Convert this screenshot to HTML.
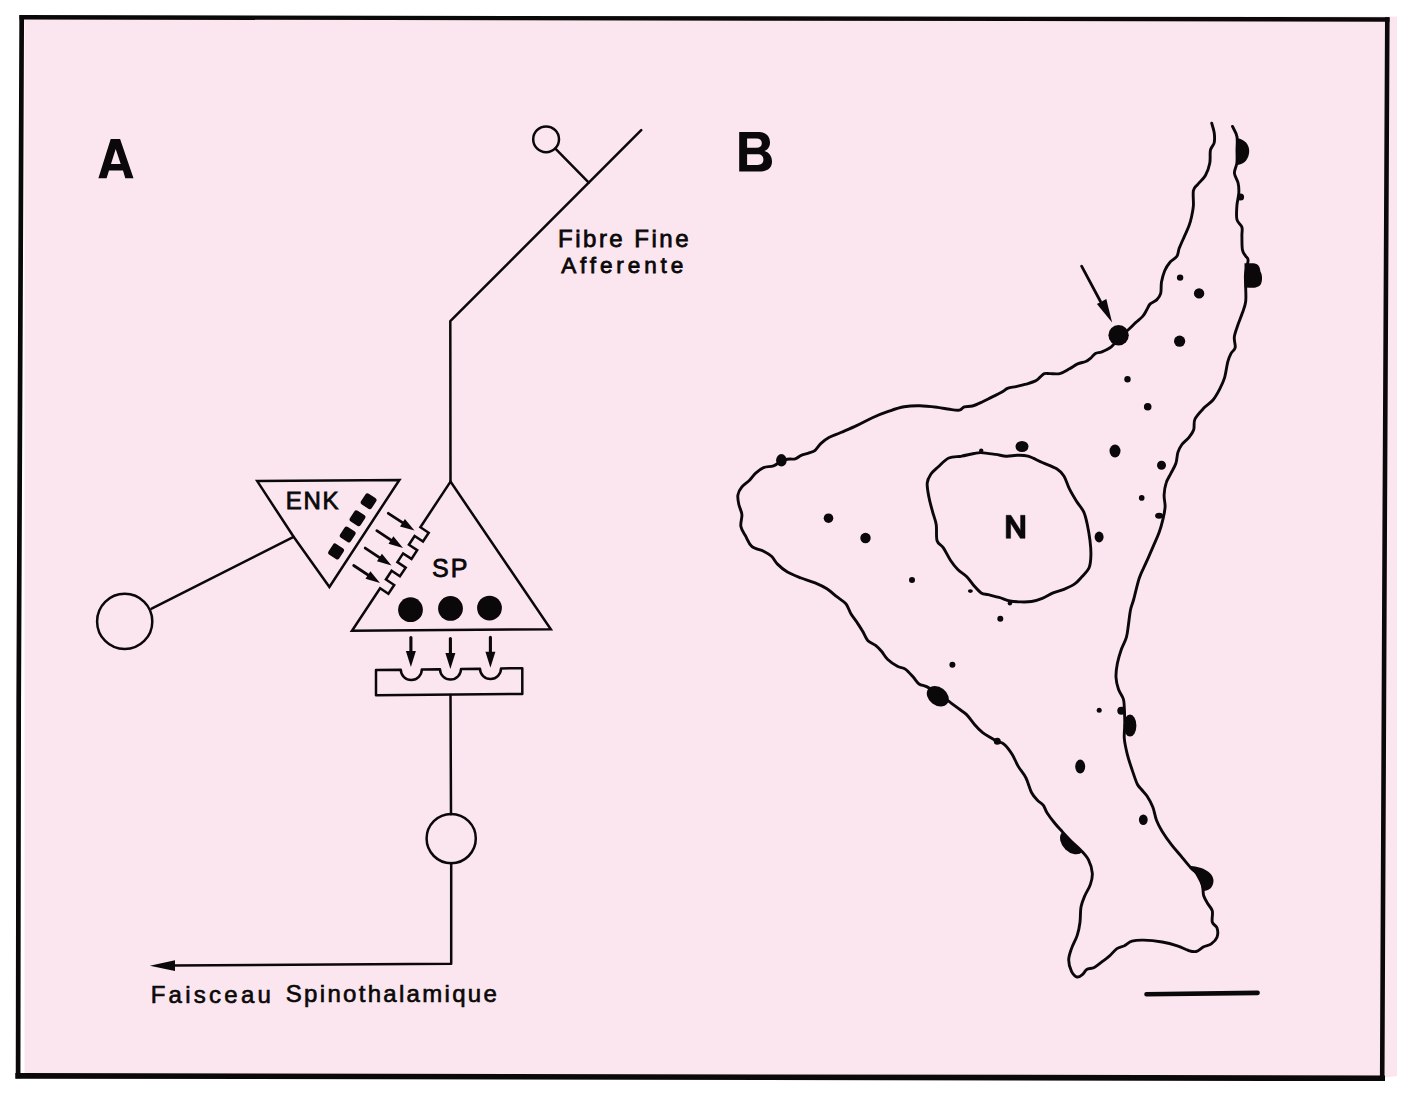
<!DOCTYPE html>
<html><head><meta charset="utf-8"><title>Diagram</title>
<style>html,body{margin:0;padding:0;background:#fff;width:1408px;height:1112px;overflow:hidden}svg{display:block;font-family:"Liberation Sans",sans-serif}</style>
</head><body><svg width="1408" height="1112" viewBox="0 0 1408 1112" font-family="Liberation Sans, sans-serif" fill="#0a0808"><polygon points="24.5,17 1397,16.5 1397,1076 1382,1078 24.5,1076" fill="#fbe6ef"/><g fill="none" stroke="#0a0808" stroke-linecap="square"><path d="M21.7,17.3 L1387.3,19.5" stroke-width="4.4"/><path d="M18.1,1075.9 L1382.2,1078.3" stroke-width="5.6"/><path d="M21.7,17.3 L20.5,290 L18.7,700 L18.1,1075.9" stroke-width="4.7" stroke-linejoin="round"/><path d="M1387.3,19.5 L1384.7,530 L1382.2,1078.3" stroke-width="4.6" stroke-linejoin="round"/></g><path d="M98.4,178.3 L110.7,139 L120.1,139 L133.5,178.3 L125.3,178.3 L123,170.6 L109,170.6 L106.6,178.3 Z M115.7,149 L111,163.9 L120.7,163.9 Z" fill="#0a0808" fill-rule="evenodd"/><path d="M739.2,132 L758,132 C767,132 770,137 770,142.5 C770,147.5 767,150 764.5,151 C769.5,152.5 772,156.5 772,161.5 C772,168 767.5,171.6 759,171.6 L739.2,171.6 Z M747.1,138.6 L747.1,147.7 L756.5,147.7 C760,147.7 761.8,146 761.8,143.2 C761.8,140.3 760,138.6 756.5,138.6 Z M747.1,154.3 L747.1,165 L757.5,165 C761.5,165 763.4,163 763.4,159.6 C763.4,156.2 761.5,154.3 757.5,154.3 Z" fill="#0a0808" fill-rule="evenodd"/><g fill="none" stroke="#0a0808" stroke-width="2.5" stroke-linecap="round" stroke-linejoin="round"><circle cx="546.1" cy="139.3" r="12.9"/><path d="M555.4,148.6 L588.8,182.6"/><path d="M641.2,130.2 L450.3,321.2 L450.5,481.8"/><path d="M450.5,481.6 L420.4,527.2 L428.7,532.8 L423,541.5 L414.6,536 L408.9,544.7 L417.2,550.2 L411.5,558.9 L403.1,553.4 L397.4,562.1 L405.7,567.6 L399.9,576.3 L391.6,570.8 L385.9,579.5 L394.2,585 L388.4,593.7 L380.1,588.2 L352,630.8 L550.8,629.3 Z" stroke-linejoin="miter"/><path d="M388.3,513.3 L404.1,523.7" stroke-width="2.8"/><path d="M376.8,530.7 L392.6,541.2" stroke-width="2.8"/><path d="M365.2,548.1 L381.1,558.6" stroke-width="2.8"/><path d="M353.7,565.5 L369.6,576" stroke-width="2.8"/><path d="M257.2,481.1 L399.4,479.9 L329.4,587 L293.6,536.8 Z" stroke-linejoin="miter"/><path d="M293.6,536.8 L151.6,608.6"/><circle cx="124.7" cy="621.4" r="27.6"/><path d="M376,670 L400.8,669.7 A10.5,10.5 0 0 0 421.8,669.4 L440,669.2 A10.5,10.5 0 0 0 461,668.9 L480,668.7 A10.5,10.5 0 0 0 501,668.4 L522.3,668.2 L522.3,693.9 L376,695.2 Z"/><path d="M410.9,637.6 L410.9,655" stroke-width="3.1"/><path d="M450.4,638.6 L450.4,657" stroke-width="3.1"/><path d="M490.4,637.4 L490.4,655.7" stroke-width="3.1"/><path d="M450.5,695 L451,814.2"/><circle cx="451.2" cy="838.6" r="24.6"/><path d="M451.2,863 L451.2,963.8 L172,965.6"/><path d="M1146.5,994.2 L1257.6,992.9" stroke-width="4.6"/></g><g fill="#0a0808"><path d="M414.5,530.6 L400,526.4 L404.9,518.9 Z"/><path d="M403,548 L388.5,543.8 L393.4,536.3 Z"/><path d="M391.5,565.5 L377,561.2 L381.9,553.7 Z"/><path d="M380,582.9 L365.5,578.7 L370.4,571.2 Z"/><path d="M410.9,667 L405.9,651 L415.9,651 Z"/><path d="M450.4,669 L445.4,653 L455.4,653 Z"/><path d="M490.4,667.7 L485.4,651.7 L495.4,651.7 Z"/><path d="M149.8,965.7 L175,960.3 L175,971 Z"/><circle cx="410.5" cy="609.7" r="12.4"/><circle cx="450.5" cy="608.4" r="12.4"/><circle cx="489.5" cy="608.1" r="12.4"/><rect x="-6.4" y="-6.4" width="12.8" height="12.8" rx="2.5" transform="translate(368.6,501.3) rotate(123.1)"/><rect x="-6.4" y="-6.4" width="12.8" height="12.8" rx="2.5" transform="translate(357.5,518.2) rotate(123.1)"/><rect x="-6.4" y="-6.4" width="12.8" height="12.8" rx="2.5" transform="translate(347.7,534.5) rotate(123.1)"/><rect x="-6.4" y="-6.4" width="12.8" height="12.8" rx="2.5" transform="translate(336.1,551.4) rotate(123.1)"/></g><g fill="none" stroke="#0a0808" stroke-width="2.9" stroke-linecap="round" stroke-linejoin="round"><path d="M1211.7,123.2 C1212.1,124.8 1213.8,129.4 1214.2,132.7 C1214.6,135.9 1214.8,139.8 1214.2,142.7 C1213.6,145.6 1211.1,146.9 1210.4,150.3 C1209.7,153.7 1210.6,158.7 1209.8,162.9 C1209,167.1 1207.4,171.9 1205.4,175.5 C1203.4,179.1 1199.8,181.8 1197.8,184.3 C1195.8,186.8 1194.1,187 1193.4,190.6 C1192.7,194.2 1193.7,201.3 1193.4,205.7 C1193.1,210.1 1192.2,213.7 1191.5,217 C1190.8,220.3 1190.2,222.7 1189,225.8 C1187.8,229 1186.2,232.2 1184.6,235.9 C1183,239.6 1180.6,244.7 1179.3,248.1 C1178,251.5 1178.5,253.8 1176.9,256.2 C1175.3,258.6 1171.6,260.3 1169.6,262.7 C1167.6,265.1 1166,267.6 1164.7,270.8 C1163.4,274 1162.2,278.3 1161.5,282.1 C1160.8,285.9 1161.5,290.4 1160.7,293.4 C1159.9,296.4 1158.5,298.1 1156.7,299.9 C1155,301.6 1151.8,302.3 1150.2,303.9 C1148.6,305.5 1148.1,307.6 1146.9,309.6 C1145.7,311.6 1144.8,313.9 1142.9,316.1 C1141,318.3 1137.9,320.5 1135.6,322.6 C1133.3,324.8 1132,326.3 1129.1,329 C1126.2,331.7 1121,336 1118,339 C1115,342 1114,344.8 1111.3,346.9 C1108.6,349 1104.6,350.7 1101.9,351.8 C1099.2,352.9 1097.3,352.3 1095.4,353.4 C1093.5,354.5 1092.1,356.9 1090.5,358.3 C1088.9,359.7 1087.9,360.6 1085.7,361.5 C1083.5,362.4 1080.3,362.7 1077.6,363.9 C1074.9,365.1 1072.5,367.2 1069.5,368.8 C1066.5,370.4 1063,372.8 1059.8,373.6 C1056.6,374.4 1052.7,373.6 1050.1,373.6 C1047.5,373.6 1046,373.1 1044.4,373.6 C1042.8,374.2 1041.9,375.7 1040.4,376.9 C1038.9,378.1 1037.9,379.7 1035.5,380.9 C1033.1,382.1 1029,383.2 1025.8,384.2 C1022.6,385.1 1019.1,385.9 1016.1,386.6 C1013.1,387.3 1010.4,387.2 1008,388.2 C1005.6,389.1 1004.2,390.8 1001.5,392.3 C998.8,393.8 995,395.5 991.8,397.1 C988.6,398.7 985.3,400.5 982.1,402 C978.9,403.5 975.4,405.2 972.4,406 C969.4,406.8 966.5,406.1 964.3,406.8 C962.1,407.5 961.8,409.7 959.4,410.1 C957,410.5 953.3,409.8 949.7,409.3 C946.1,408.9 942.7,408 937.7,407.4 C932.7,406.8 925.5,405.9 919.9,405.8 C914.3,405.7 909.4,405.9 904.1,406.8 C898.8,407.7 893.6,409.6 888.3,411.4 C883,413.2 877.7,415.3 872.4,417.7 C867.1,420.1 861.9,423.1 856.6,425.6 C851.3,428.1 845.4,430.5 840.8,432.5 C836.2,434.5 832.2,435.7 828.9,437.5 C825.6,439.3 823.3,441.3 821,443.4 C818.7,445.5 817.1,448.7 815.1,450.3 C813.1,451.9 811.4,452.1 809.1,452.9 C806.8,453.7 803.5,454.3 801.2,455.3 C798.9,456.3 797.6,458.2 795.3,458.8 C793,459.4 789.7,458.8 787.4,459.2 C785.1,459.6 783.7,459.9 781.4,461 C779.1,462.1 776.5,464.7 773.5,465.8 C770.5,466.9 766.6,466.4 763.6,467.6 C760.6,468.8 758,471 755.7,473.1 C753.4,475.2 752.1,477.7 749.8,480 C747.5,482.3 743.9,484.4 741.9,486.9 C739.9,489.4 738.4,491.9 737.9,494.9 C737.4,497.9 738.2,501.5 738.9,504.8 C739.6,508.1 741.6,511 741.9,514.6 C742.2,518.2 740.2,522.9 740.9,526.5 C741.5,530.1 744,533.1 745.8,536.4 C747.6,539.7 748.8,543.8 751.8,546.3 C754.8,548.8 760.3,549.6 763.6,551.2 C766.9,552.9 769.2,554.1 771.5,556.2 C773.8,558.4 774.9,561.5 777.5,564.1 C780.1,566.7 783.4,569.7 787.4,572 C791.4,574.3 796.6,576.2 801.2,578 C805.8,579.8 810.8,581.1 815.1,582.9 C819.4,584.7 823.3,586.5 826.9,588.8 C830.5,591.1 833.6,594.2 836.8,596.7 C840,599.2 843.5,601 845.9,603.8 C848.2,606.6 848.9,610.4 850.9,613.7 C852.9,617 855.8,620.6 857.8,623.6 C859.8,626.6 861.1,628.7 862.8,631.5 C864.4,634.3 865.6,638.1 867.7,640.4 C869.8,642.7 873.3,643.6 875.6,645.4 C877.9,647.2 879.5,649 881.5,651.3 C883.5,653.6 884.9,656.7 887.5,659.2 C890.1,661.7 894.4,664.6 897.4,666.2 C900.4,667.9 902.7,667.3 905.3,669.1 C907.9,670.9 910.9,674.6 913.2,677.1 C915.5,679.6 916.8,682.4 919.1,684 C921.4,685.6 923.9,685.2 927.1,686.9 C930.3,688.6 934.5,691.4 938.5,694 C942.5,696.6 947.4,700.3 950.8,702.8 C954.2,705.2 956.1,706.7 958.7,708.7 C961.3,710.7 964,712 966.6,714.6 C969.2,717.2 971.9,721.5 974.5,724.5 C977.1,727.5 979.8,730.2 982.4,732.4 C985,734.5 987.9,735.9 990.4,737.4 C992.9,738.9 995,740.1 997.3,741.3 C999.6,742.4 1001.7,742.1 1004.2,744.3 C1006.7,746.4 1009.8,750.6 1012.1,754.2 C1014.4,757.8 1015.8,762.1 1018.1,766.1 C1020.4,770.1 1023.8,773.6 1026,778 C1028.2,782.4 1029.6,788.8 1031.5,792.5 C1033.4,796.2 1035.6,798.3 1037.6,800.4 C1039.5,802.5 1041.6,803 1043.2,805.1 C1044.8,807.2 1045.1,809.7 1047,812.7 C1048.9,815.7 1052.1,819.9 1054.6,823 C1057.1,826.1 1059.2,828.3 1062.1,831.5 C1065,834.7 1068.8,838.9 1072,842 C1075.2,845.1 1078.2,847.4 1081,850.4 C1083.8,853.4 1086.6,856.1 1088.5,859.9 C1090.4,863.7 1092,869 1092.3,873.1 C1092.6,877.2 1091.7,880.6 1090.4,884.4 C1089.2,888.2 1086.4,892 1084.8,895.8 C1083.2,899.6 1081.8,902.7 1081,907.1 C1080.2,911.5 1080.6,917.5 1080,922.2 C1079.4,926.9 1078.6,931 1077.2,935.4 C1075.8,939.8 1072.9,944.5 1071.5,948.6 C1070.1,952.7 1068.7,956.2 1068.7,960 C1068.7,963.8 1070.1,968.5 1071.5,971.3 C1072.9,974.1 1075.3,976.5 1077.2,977 C1079.1,977.5 1081.3,975.4 1082.9,974.1 C1084.5,972.8 1084.8,970.5 1086.7,969.4 C1088.6,968.3 1091.7,968.8 1094.2,967.5 C1096.7,966.2 1099.3,963.8 1101.8,961.9 C1104.3,960 1106.8,958.4 1109.3,956.2 C1111.8,954 1114.4,950.3 1116.9,948.6 C1119.4,946.9 1121.9,947 1124.4,945.8 C1126.9,944.5 1128.8,942 1132,941.1 C1135.2,940.2 1138.3,940 1143.3,940.1 C1148.3,940.2 1156.5,941 1162.2,942 C1167.9,943 1172.9,944.4 1177.3,945.8 C1181.7,947.2 1185.4,949.5 1188.6,950.5 C1191.8,951.5 1193.7,952.1 1196.2,951.5 C1198.7,950.9 1201.2,948.1 1203.7,946.8 C1206.2,945.5 1209.1,945.5 1211.3,943.9 C1213.5,942.3 1216,940 1217,937.3 C1218,934.6 1217.8,930.4 1217,927.9 C1216.2,925.4 1213.1,925 1212.3,922.2 C1211.5,919.4 1213.1,914 1212.3,910.9 C1211.5,907.8 1208.9,905.8 1207.5,903.3 C1206.1,900.8 1204.5,898.3 1203.7,895.8 C1202.9,893.3 1203.4,891.3 1202.8,888.2 C1202.2,885.1 1202,880.5 1200,877 C1198,873.5 1193.7,870.9 1190.5,867.4 C1187.3,863.9 1184.2,859.9 1181.1,856.1 C1177.9,852.3 1174.8,848.9 1171.6,844.8 C1168.4,840.7 1164.7,835.6 1162.2,831.5 C1159.7,827.4 1158.1,824.3 1156.5,820.2 C1154.9,816.1 1154.4,811 1152.8,807 C1151.2,803 1148.9,798.9 1147,796 C1145.1,793.1 1143.1,791.5 1141.5,789.5 C1139.9,787.5 1138.8,787.2 1137.2,784 C1135.7,780.8 1133.9,775.1 1132.2,770.1 C1130.5,765.1 1128.6,759.6 1127.3,754.3 C1126,749 1124.7,743.5 1124.3,738.5 C1123.9,733.5 1124.8,729.1 1124.8,724 C1124.8,718.9 1124.5,712 1124.3,707.8 C1124,703.6 1124.3,702 1123.3,698.9 C1122.3,695.8 1119.6,692.6 1118.4,689 C1117.2,685.4 1116.2,681.5 1116,677.2 C1115.8,672.9 1116.5,667.9 1117.4,663.3 C1118.3,658.7 1119.8,653.8 1121.3,649.5 C1122.8,645.2 1125.1,641.6 1126.3,637.6 C1127.5,633.6 1127.6,630.3 1128.3,625.7 C1129,621.1 1129.6,614.3 1130.5,610 C1131.4,605.7 1132,605.3 1133.5,600 C1135,594.7 1137.2,584.3 1139.3,578 C1141.4,571.7 1144,567.5 1146.3,562.2 C1148.6,556.9 1151.1,551.4 1153.2,546.4 C1155.3,541.4 1157.4,537.1 1159.1,532.5 C1160.8,527.9 1162.1,523 1163.1,518.7 C1164.1,514.4 1164.9,510.8 1165.1,506.8 C1165.3,502.9 1163.9,498.9 1164.1,495 C1164.3,491.1 1164.9,486.7 1166.1,483.1 C1167.2,479.5 1169.4,476.5 1171,473.2 C1172.6,469.9 1174.8,466.8 1175.9,463.3 C1177.1,459.8 1176.9,455.5 1177.9,452.4 C1178.9,449.3 1180.1,447 1181.9,444.5 C1183.7,442 1186.8,440.1 1188.8,437.6 C1190.8,435.1 1192.7,432.8 1193.7,429.7 C1194.7,426.6 1193.3,422.6 1195,419 C1196.7,415.4 1200.6,411.5 1203.6,408.3 C1206.6,405.1 1210.3,403.2 1213,400 C1215.7,396.8 1217.9,392.6 1219.8,388.9 C1221.7,385.2 1223.2,382.2 1224.6,377.6 C1225.9,373 1226.8,365.4 1227.9,361.4 C1229,357.3 1229.9,355.6 1231.1,353.3 C1232.3,351 1234.7,350.3 1235.2,347.6 C1235.7,344.9 1233.9,340.7 1234.3,337.1 C1234.7,333.5 1236.2,329.9 1237.6,325.8 C1238.9,321.8 1241.1,316.9 1242.4,312.8 C1243.8,308.8 1245.2,305.8 1245.7,301.5 C1246.2,297.2 1245.7,291.5 1245.7,286.9 C1245.7,282.3 1245.1,278.4 1245.5,274 C1245.9,269.6 1248.1,263.2 1248.1,260.2 C1248.1,257.2 1246.7,257.9 1245.7,256.2 C1244.8,254.4 1243,253.1 1242.4,249.7 C1241.8,246.3 1242,239.7 1241.9,235.9 C1241.8,232.1 1242.7,229.8 1241.9,227.1 C1241.1,224.4 1237.7,223.1 1236.9,219.5 C1236.1,215.9 1236.6,210.1 1236.9,205.7 C1237.2,201.3 1238.6,196.9 1238.8,193.1 C1239,189.3 1238.8,186.3 1238.1,183 C1237.4,179.7 1234.6,176.3 1234.4,173 C1234.2,169.7 1236.5,166.7 1236.9,162.9 C1237.3,159.1 1237,154.4 1237,150 C1237,145.6 1237.7,140.3 1236.9,136.4 C1236.2,132.5 1233.2,128.1 1232.5,126.4"/><path d="M948.8,458 C952.7,456.2 957.2,456.9 961.4,456.2 C965.6,455.4 970.7,454.1 974,453.5 C977.3,452.9 977.6,452.5 981.2,452.6 C984.8,452.8 991.3,453.8 995.5,454.4 C999.7,455 1002.7,456 1006.3,456.2 C1009.9,456.4 1013.5,455.3 1017.1,455.3 C1020.7,455.3 1023.7,455 1027.9,456.2 C1032.1,457.4 1037.5,460.4 1042.3,462.5 C1047.1,464.6 1053.1,466.6 1056.7,468.8 C1060.3,471.1 1061.8,472.7 1063.9,476 C1066,479.3 1067.2,484.4 1069.3,488.6 C1071.4,492.8 1074.1,497.3 1076.5,501.2 C1078.9,505.1 1081.9,508 1083.7,511.9 C1085.5,515.8 1086.2,519.7 1087.3,524.5 C1088.3,529.3 1089.4,535.6 1090,540.7 C1090.6,545.8 1091.1,550.6 1090.9,555.1 C1090.8,559.6 1090.6,564.1 1089.1,567.7 C1087.6,571.3 1084.3,574 1081.9,576.7 C1079.5,579.4 1077.7,581.8 1074.7,583.9 C1071.7,586 1067.5,587.8 1063.9,589.3 C1060.3,590.8 1056.7,591.4 1053.1,592.9 C1049.5,594.4 1045.9,596.9 1042.3,598.3 C1038.7,599.7 1035.1,600.9 1031.5,601.5 C1027.9,602.1 1024.3,602 1020.7,601.9 C1017.1,601.8 1013.5,601.8 1009.9,601 C1006.3,600.2 1002.7,598.4 999.1,597.4 C995.5,596.4 991.3,595.5 988.3,594.7 C985.3,594 983.6,594.4 981.2,592.9 C978.8,591.4 976.4,588.4 974,585.7 C971.6,583 969.5,579.4 966.8,576.7 C964.1,574 960.5,572.2 957.8,569.5 C955.1,566.8 953,564.1 950.6,560.5 C948.2,556.9 945.6,551.2 943.4,547.9 C941.1,544.6 938.3,544.6 937.1,540.7 C935.9,536.8 937,529.3 936.2,524.5 C935.5,519.7 933.8,516.4 932.6,511.9 C931.4,507.4 929.9,502.4 929,497.6 C928.1,492.8 926.9,487.1 927.2,483.2 C927.5,479.3 929,476.9 930.8,474.2 C932.6,471.5 935,469.7 938,467 C941,464.3 944.9,459.8 948.8,458 Z"/></g><g fill="#0a0808"><path d="M1236.5,138 C1244,139 1249.2,144 1249.2,151 C1249.2,158 1245,164.5 1237,165 Z"/><path d="M1244.5,263.3 L1253,263.3 C1258.5,263.6 1260,267 1260.4,271.5 C1262.4,274.5 1262.6,280.5 1261,284 C1259,287.6 1254,288 1250,287.8 L1244.5,287.5 Z"/><circle cx="1118.6" cy="335.3" r="10.2"/><ellipse cx="937.8" cy="696.3" rx="12" ry="9" transform="rotate(37 937.8 696.3)"/><path d="M1062,832.5 A13.8,9.6 45 0 0 1082.2,852 Z"/><path d="M1189.5,866 C1199,866 1213.5,871 1213.5,880.5 C1213.5,887.5 1208.5,891 1203.5,891 C1201,885 1196,873 1189.5,866 Z"/><ellipse cx="1130" cy="725.6" rx="6.4" ry="11"/><path d="M1081.6,266.2 L1100.5,301.5" stroke="#0a0808" stroke-width="2.8" stroke-linecap="round"/><path d="M1112.1,322.4 L1096.9,303.9 L1106.3,299 Z"/><ellipse cx="1240.6" cy="196.9" rx="3.5" ry="3.5"/><ellipse cx="781.4" cy="460.3" rx="5.3" ry="6.2"/><ellipse cx="997.3" cy="741.3" rx="3.5" ry="3.5"/><ellipse cx="1121.3" cy="710.8" rx="4" ry="4"/><ellipse cx="1180.1" cy="277.6" rx="3.2" ry="3.2"/><ellipse cx="1199.1" cy="293.4" rx="5.2" ry="5.2"/><ellipse cx="1179.6" cy="341.2" rx="5.6" ry="5.6"/><ellipse cx="1127.5" cy="379.2" rx="3.2" ry="3.2"/><ellipse cx="1147.7" cy="406.8" rx="3.8" ry="3.8"/><ellipse cx="1022" cy="446.5" rx="6.5" ry="5.5"/><ellipse cx="1115" cy="451" rx="5.5" ry="6.5"/><ellipse cx="1161.5" cy="465.3" rx="4.5" ry="4.5"/><ellipse cx="1141.7" cy="497.9" rx="2.8" ry="2.8"/><ellipse cx="1159.1" cy="515.7" rx="4" ry="3"/><ellipse cx="1099.1" cy="537" rx="4.5" ry="5.4"/><ellipse cx="828.5" cy="518.2" rx="4.8" ry="4.8"/><ellipse cx="865.5" cy="538" rx="5.2" ry="5.2"/><ellipse cx="912" cy="579.9" rx="3" ry="3"/><ellipse cx="1000.3" cy="618.7" rx="3" ry="3"/><ellipse cx="952.4" cy="664.8" rx="3" ry="3"/><ellipse cx="1099.2" cy="710.2" rx="2.5" ry="2.5"/><ellipse cx="1080.2" cy="766.6" rx="5" ry="7"/><ellipse cx="1143.3" cy="819.7" rx="4.4" ry="5.2"/><ellipse cx="981.2" cy="450.8" rx="2.2" ry="2.2"/><ellipse cx="1009.9" cy="603.3" rx="2.2" ry="2.2"/><ellipse cx="970.4" cy="591.1" rx="2.5" ry="1.8"/></g><path d="M1006.2,538.3 L1006.2,515.3 L1010.9,515.3 L1020.6,530.6 L1020.6,515.3 L1025,515.3 L1025,538.3 L1020.3,538.3 L1010.6,523 L1010.6,538.3 Z" fill="#0a0808" stroke="#0a0808" stroke-width="0.5" stroke-linejoin="round"/><text transform="translate(558.1,247.1) scale(1.0,1)" font-size="24" font-weight="normal" textLength="130.4" lengthAdjust="spacing" stroke="#0a0808" stroke-width="0.8">Fibre Fine</text><text transform="translate(561.2,273.1) scale(1.0,1)" font-size="22.5" font-weight="normal" textLength="122" lengthAdjust="spacing" stroke="#0a0808" stroke-width="0.8">Afferente</text><text transform="translate(285.8,509) scale(1.0,1)" font-size="24" font-weight="normal" textLength="52.6" lengthAdjust="spacing" stroke="#0a0808" stroke-width="0.8">ENK</text><text transform="translate(432,576.8) scale(1.0,1)" font-size="25" font-weight="normal" textLength="35.4" lengthAdjust="spacing" stroke="#0a0808" stroke-width="0.8">SP</text><text transform="translate(150.7,1003.3) scale(1.0,1)" font-size="24" font-weight="normal" textLength="120.2" lengthAdjust="spacing" stroke="#0a0808" stroke-width="0.65">Faisceau</text><text transform="translate(285.8,1002.3) scale(1.0,1)" font-size="24" font-weight="normal" textLength="211" lengthAdjust="spacing" stroke="#0a0808" stroke-width="0.65">Spinothalamique</text></svg></body></html>
